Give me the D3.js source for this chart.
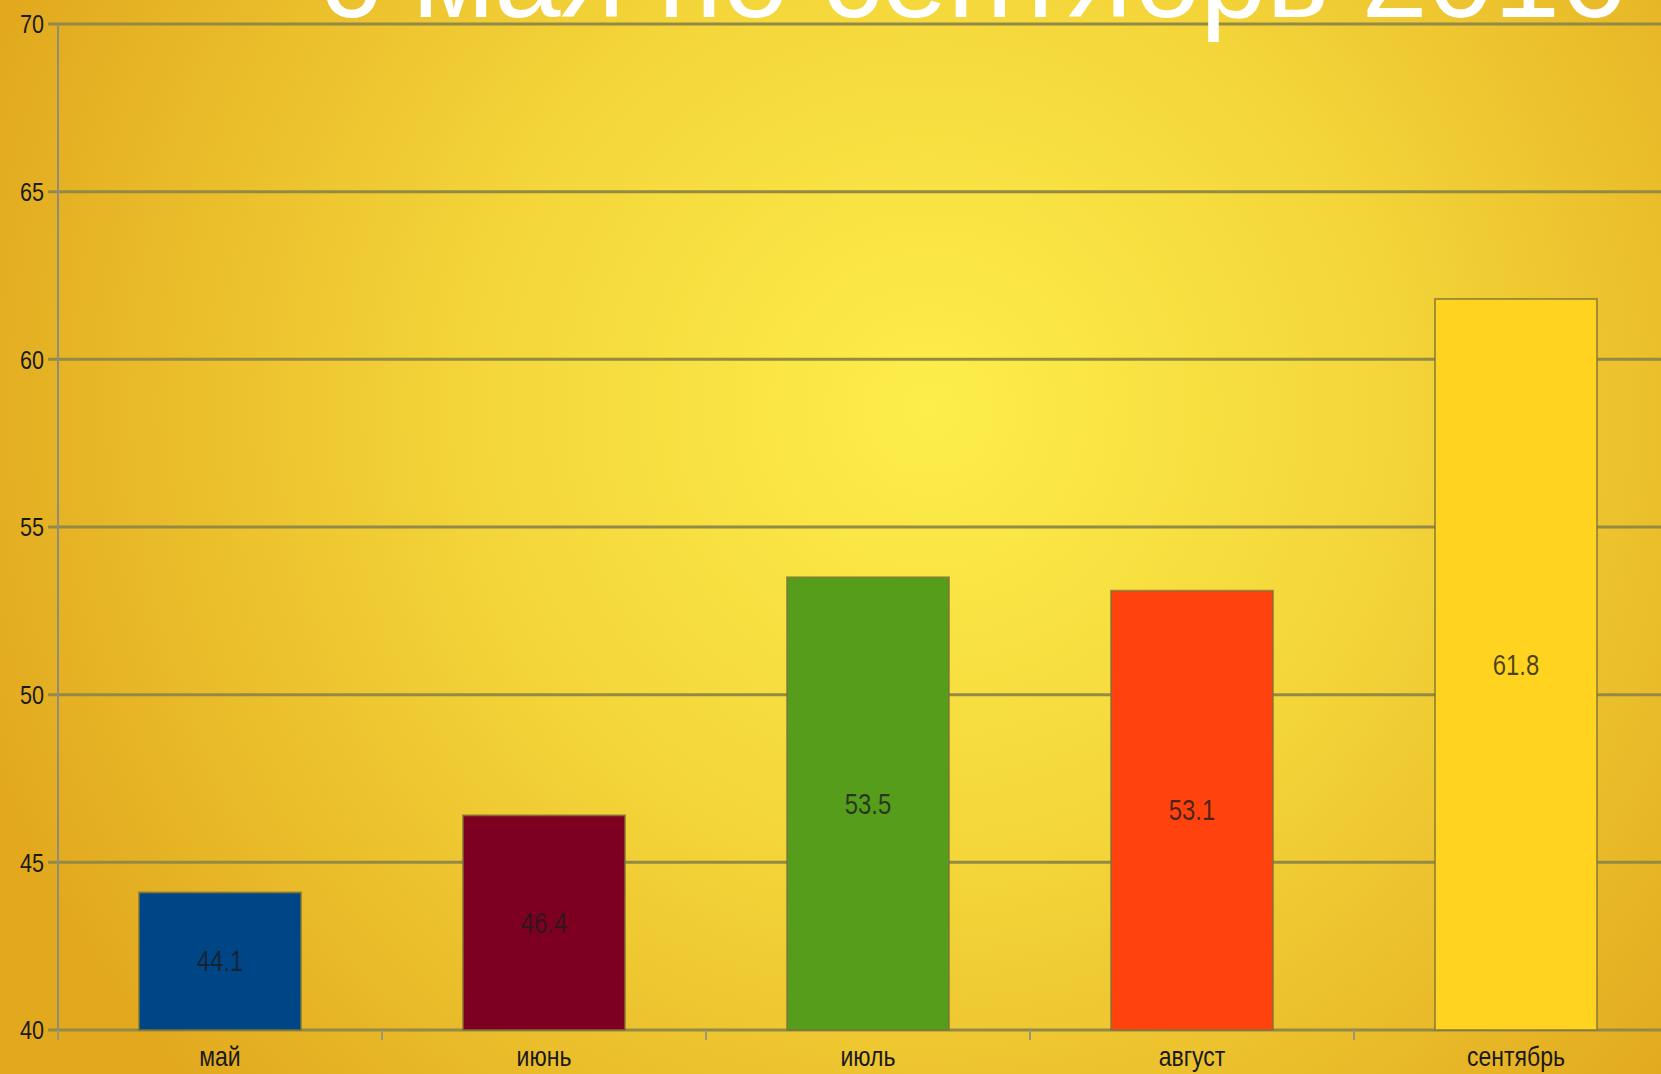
<!DOCTYPE html>
<html>
<head>
<meta charset="utf-8">
<script src="https://cdn.jsdelivr.net/npm/d3@7"></script>
<style>
  html, body { margin: 0; padding: 0; overflow: hidden; }
  svg { display: block; font-family: "Liberation Sans", Arial, sans-serif; }
</style>
</head>
<body>
<svg id="chart"></svg>
<script>
// --- Data ---
const months = ["май", "июнь", "июль", "август", "сентябрь"];
const values = [44.1, 46.4, 53.5, 53.1, 61.8];
const barColors = ["#004586", "#7e0021", "#579d1c", "#ff420e", "#ffd320"];
const yTicks = [40, 45, 50, 55, 60, 65, 70];
const titleText = "с мая по сентябрь 2016";

// --- Dimensions ---
const width = 1661, height = 1074;
const margin = { top: 24, left: 58 };
const plotWidth = 1620;   // runs past the right edge like the original
const plotHeight = 1006;

const svg = d3.select("#chart")
    .attr("width", width)
    .attr("height", height);

// Background: soft radial yellow glow
const defs = svg.append("defs");
const grad = defs.append("radialGradient")
    .attr("id", "bg")
    .attr("gradientUnits", "userSpaceOnUse")
    .attr("cx", 930).attr("cy", 410).attr("r", 1000);
grad.append("stop").attr("offset", "0%").attr("stop-color", "#fdee4b");
grad.append("stop").attr("offset", "45%").attr("stop-color", "#f4d63a");
grad.append("stop").attr("offset", "100%").attr("stop-color", "#e2a91f");

svg.append("rect")
    .attr("width", width)
    .attr("height", height)
    .attr("fill", "url(#bg)");

const g = svg.append("g")
    .attr("transform", `translate(${margin.left}, ${margin.top})`);

// --- Scales ---
const x = d3.scaleBand()
    .domain(months)
    .range([0, plotWidth])
    .paddingInner(0.5)
    .paddingOuter(0.25);

const y = d3.scaleLinear()
    .domain([40, 70])
    .range([plotHeight, 0]);

const gridColor = "#938a45";

// Gridlines
g.selectAll(".grid")
    .data(yTicks)
    .join("line")
    .attr("class", "grid")
    .attr("x1", -10)
    .attr("x2", plotWidth)
    .attr("y1", d => y(d))
    .attr("y2", d => y(d))
    .attr("stroke", gridColor)
    .attr("stroke-width", 3);

// Y axis line
g.append("line")
    .attr("x1", 0).attr("x2", 0)
    .attr("y1", 0).attr("y2", plotHeight + 10)
    .attr("stroke", "#8f8c78")
    .attr("stroke-width", 2);

// Y tick labels (slightly condensed, like the source)
g.selectAll(".ylabel")
    .data(yTicks)
    .join("text")
    .attr("class", "ylabel")
    .attr("transform", d => `translate(-14, ${y(d)}) scale(0.9, 1.1)`)
    .attr("dy", "0.35em")
    .attr("text-anchor", "end")
    .attr("font-size", 24)
    .attr("fill", "#1a1a1a")
    .text(d => d);

// X ticks at band boundaries
const step = x.step();
g.selectAll(".xtick")
    .data(d3.range(months.length))
    .join("line")
    .attr("class", "xtick")
    .attr("x1", i => i * step)
    .attr("x2", i => i * step)
    .attr("y1", plotHeight)
    .attr("y2", plotHeight + 10)
    .attr("stroke", "#9c9678")
    .attr("stroke-width", 2);

// Bars
g.selectAll(".bar")
    .data(values)
    .join("rect")
    .attr("class", "bar")
    .attr("x", (d, i) => x(months[i]))
    .attr("y", d => y(d))
    .attr("width", x.bandwidth())
    .attr("height", d => plotHeight - y(d))
    .attr("fill", (d, i) => barColors[i])
    .attr("stroke", "#7d7336")
    .attr("stroke-opacity", 0.7)
    .attr("stroke-width", 2);

// Value labels in the middle of each bar
g.selectAll(".value")
    .data(values)
    .join("text")
    .attr("class", "value")
    .attr("transform", (d, i) =>
        `translate(${x(months[i]) + x.bandwidth() / 2}, ${(y(d) + plotHeight) / 2}) scale(0.92, 1.1)`)
    .attr("dy", "0.35em")
    .attr("text-anchor", "middle")
    .attr("font-size", 26)
    .attr("fill", "#1b1b1b")
    .attr("fill-opacity", 0.78)
    .text(d => d.toFixed(1));

// Category labels
g.selectAll(".xlabel")
    .data(months)
    .join("text")
    .attr("class", "xlabel")
    .attr("transform", d => `translate(${x(d) + x.bandwidth() / 2}, ${plotHeight + 36}) scale(0.92, 1.1)`)
    .attr("text-anchor", "middle")
    .attr("font-size", 25)
    .attr("fill", "#1a1a1a")
    .text(d => d);

// Title (cut off at the top like the original)
svg.append("text")
    .attr("x", 320)
    .attr("y", 17)
    .attr("font-size", 119)
    .attr("fill", "#ffffff")
    .text(titleText);
</script>
</body>
</html>
